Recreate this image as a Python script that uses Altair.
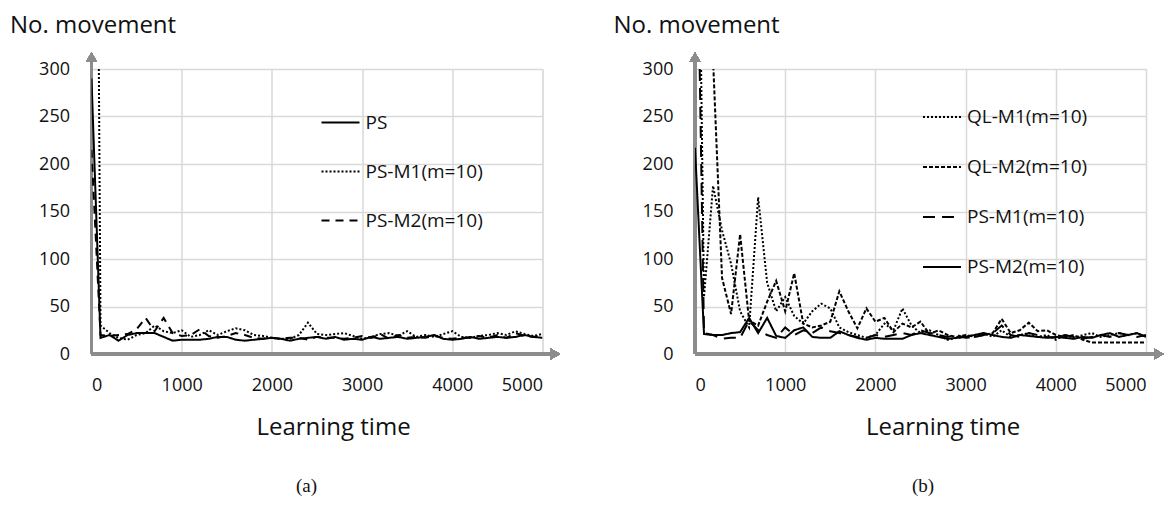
import altair as alt
import pandas as pd

# ---------------- data ----------------
x_vals = list(range(0, 5001, 100))

# panel (a)
a_names = ["PS", "PS-M1(m=10)", "PS-M2(m=10)"]
a_ps = [290, 17, 20, 14, 20, 22, 22, 22, 18, 14,
        15, 15, 15, 16, 18, 18, 15, 14, 15, 16,
        17, 16, 14, 16, 17, 18, 16, 18, 15, 16,
        15, 18, 16, 17, 18, 16, 17, 18, 20, 16,
        15, 16, 18, 16, 17, 18, 17, 18, 20, 18,
        17]
a_psm1 = [1500, 30, 22, 17, 15, 20, 22, 30, 24, 22,
          25, 18, 20, 25, 20, 24, 27, 25, 20, 19,
          17, 16, 16, 20, 33, 21, 20, 21, 22, 19,
          16, 18, 21, 22, 19, 24, 18, 20, 18, 21,
          24, 18, 17, 19, 20, 22, 20, 24, 21, 19,
          21]
a_psm2 = [215, 20, 19, 20, 21, 26, 38, 24, 38, 22,
          19, 20, 26, 19, 17, 19, 22, 20, 17, 16,
          17, 16, 17, 17, 15, 18, 17, 17, 16, 17,
          19, 17, 21, 16, 20, 17, 18, 17, 19, 17,
          16, 17, 17, 19, 17, 20, 17, 22, 19, 18,
          20]

# panel (b)
b_names = ["QL-M1(m=10)", "QL-M2(m=10)", "PS-M1(m=10)", "PS-M2(m=10)"]
b_qlm1 = [800, 60, 177, 130, 95, 45, 28, 165, 75, 45,
          60, 40, 32, 45, 53, 48, 28, 23, 20, 17,
          20, 32, 25, 48, 30, 22, 25, 20, 15, 17,
          18, 20, 22, 18, 25, 18, 20, 22, 18, 20,
          15, 20, 17, 20, 22, 18, 20, 22, 20, 22,
          18]
b_qlm2 = [700, 400, 310, 80, 42, 126, 35, 30, 55, 77,
          45, 85, 32, 28, 30, 34, 66, 45, 27, 48,
          34, 38, 23, 32, 28, 34, 21, 25, 20, 18,
          20, 18, 20, 22, 37, 22, 25, 33, 24, 25,
          20, 18, 20, 15, 12, 12, 12, 12, 12, 12,
          12]
b_psm1 = [600, 22, 20, 16, 17, 17, 35, 25, 20, 17,
          28, 20, 25, 22, 28, 24, 22, 20, 18, 17,
          20, 18, 20, 22, 20, 25, 22, 20, 18, 20,
          17, 18, 20, 22, 30, 20, 18, 22, 20, 18,
          17, 20, 18, 16, 18, 20, 18, 22, 20, 18,
          20]
b_psm2 = [217, 21, 20, 20, 22, 23, 38, 22, 38, 19,
          17, 25, 28, 18, 17, 17, 24, 20, 17, 15,
          17, 16, 16, 16, 20, 22, 20, 18, 16, 17,
          18, 20, 22, 20, 18, 17, 20, 19, 18, 17,
          18, 17, 16, 18, 17, 20, 22, 18, 20, 22,
          18]

x_ticks = [0, 1000, 2000, 3000, 4000, 5000]
y_ticks = [0, 50, 100, 150, 200, 250, 300]

FONT = "Open Sans"
W, H = 451, 285
AXIS_GRAY = "#8c8c8c"
GRID = "#d9d9d9"


def to_long(names, series):
    rows = []
    for n, vals in zip(names, series):
        for t, v in zip(x_vals, vals):
            rows.append({"t": t, "v": v, "s": n})
    return pd.DataFrame(rows)


def panel(names, series, dashes, legend_x, legend_y, row_pad, title_dx, caption, caption_x):
    df = to_long(names, series)
    xs = alt.Scale(domain=[0, 5000], nice=False, zero=False)
    ys = alt.Scale(domain=[0, 300], nice=False)

    lines = alt.Chart(df).mark_line(color="black", strokeWidth=2, clip=True).encode(
        x=alt.X("t:Q", scale=xs, axis=alt.Axis(
            values=x_ticks, format="d", grid=True, gridColor=GRID, gridWidth=1.5, domain=False,
            ticks=False, labelFont=FONT, labelFontSize=18, labelColor="#111", labelPadding=22,
            title="Learning time", titleFont=FONT, titleFontSize=24, titleFontWeight="normal",
            titleColor="#111", titleX=W / 2 + title_dx, titleY=80, titleBaseline="alphabetic",
            titleAlign="center")),
        y=alt.Y("v:Q", scale=ys, axis=alt.Axis(
            values=y_ticks, format="d", grid=True, gridColor=GRID, gridWidth=1.5, domain=False,
            ticks=False, labelFont=FONT, labelFontSize=18, labelColor="#111", labelPadding=22,
            title=None)),
        strokeDash=alt.StrokeDash("s:N", scale=alt.Scale(domain=names, range=dashes),
                                  legend=alt.Legend(
                                      orient="none", legendX=legend_x, legendY=legend_y,
                                      title=None, symbolType="stroke", symbolSize=1444,
                                      symbolStrokeWidth=2, symbolStrokeColor="black",
                                      labelFont=FONT, labelFontSize=19, labelColor="#111",
                                      labelOffset=5, rowPadding=row_pad, padding=0)),
        order="t:Q",
    )

    yaxis_rule = alt.Chart(df).mark_rule(color=AXIS_GRAY, strokeWidth=3, y2Offset=-8).encode(
        x=alt.X(datum=0, type="quantitative", scale=xs),
        y=alt.Y(datum=0, type="quantitative", scale=ys),
        y2=alt.Y2(datum=300),
    )
    xaxis_rule = alt.Chart(df).mark_rule(color=AXIS_GRAY, strokeWidth=3, x2Offset=10).encode(
        x=alt.X(datum=0, type="quantitative", scale=xs),
        x2=alt.X2(datum=5000),
        y=alt.Y(datum=0, type="quantitative", scale=ys),
    )
    y_arrow = alt.Chart(df).mark_point(shape="triangle-up", filled=True, color=AXIS_GRAY,
                                       size=110, opacity=1, yOffset=-12).encode(
        x=alt.X(datum=0, type="quantitative", scale=xs),
        y=alt.Y(datum=300, type="quantitative", scale=ys),
    )
    x_arrow = alt.Chart(df).mark_point(shape="triangle-right", filled=True, color=AXIS_GRAY,
                                       size=110, opacity=1, xOffset=13).encode(
        x=alt.X(datum=5000, type="quantitative", scale=xs),
        y=alt.Y(datum=0, type="quantitative", scale=ys),
    )

    ylabel = alt.Chart(pd.DataFrame({"txt": ["No. movement"]})).mark_text(
        font=FONT, fontSize=24, align="left", baseline="middle", color="#111").encode(
        text="txt:N", x=alt.value(-81.5), y=alt.value(-43))
    cap = alt.Chart(pd.DataFrame({"txt": [caption]})).mark_text(
        font="Liberation Serif", fontSize=19, align="center", baseline="middle", color="#111").encode(
        text="txt:N", x=alt.value(caption_x), y=alt.value(H + 132))

    return alt.layer(yaxis_rule, xaxis_rule, lines, y_arrow, x_arrow, ylabel, cap).properties(
        width=W, height=H)


left = panel(a_names, [a_ps, a_psm1, a_psm2],
             [[1, 0], [2, 2], [8, 6]],
             legend_x=229, legend_y=33.5, row_pad=19, title_dx=16, caption="(a)", caption_x=215)
right = panel(b_names, [b_qlm1, b_qlm2, b_psm1, b_psm2],
              [[2, 2], [4, 2], [12, 7], [1, 0]],
              legend_x=227, legend_y=28, row_pad=20, title_dx=22, caption="(b)", caption_x=228)

chart = alt.hconcat(left, right, spacing=152.5, bounds="flush").resolve_scale(
    strokeDash="independent").resolve_legend(strokeDash="independent").properties(
    padding={"left": 1.5, "top": 5, "right": 0, "bottom": 0}
).configure_view(stroke=None).configure(font=FONT)

chart.save("out.html", embed_options={"renderer": "svg", "actions": False})
